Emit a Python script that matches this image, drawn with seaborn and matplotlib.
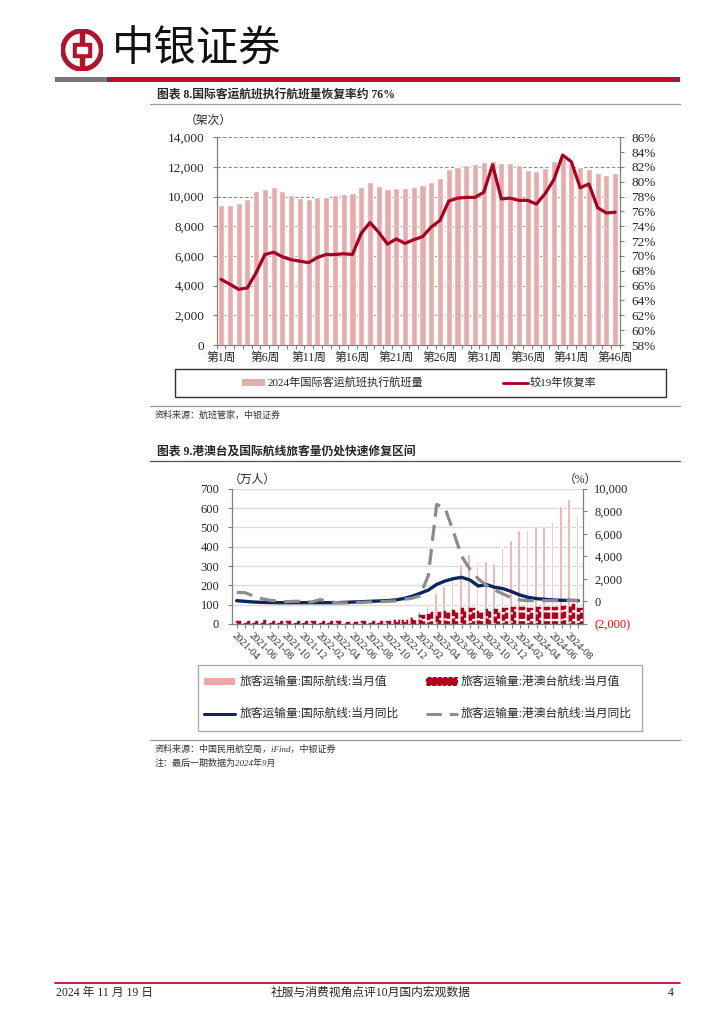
import numpy as np
import pandas as pd
import seaborn as sns
import matplotlib.pyplot as plt
from matplotlib.lines import Line2D
from matplotlib.patches import Rectangle, Circle
from matplotlib.ticker import FuncFormatter

W, H = 724, 1024

# chart 8: weekly international passenger flights and recovery vs 2019
weeks = [f"第{i}周" for i in range(1, 47)]
flights = [9440, 9420, 9550, 9840, 10380, 10520, 10670, 10400, 10110, 9930,
           9840, 10000, 10000, 10110, 10200, 10250, 10650, 10990, 10720, 10540,
           10580, 10580, 10650, 10760, 10990, 11280, 11840, 12020, 12110, 12200,
           12340, 12380, 12250, 12270, 12110, 11780, 11750, 11950, 12400, 12600,
           12250, 12020, 11890, 11570, 11460, 11570]
recovery = [66.85, 66.2, 65.5, 65.7, 67.75, 70.2, 70.5, 69.9, 69.5, 69.3,
            69.1, 69.8, 70.2, 70.2, 70.3, 70.2, 73.05, 74.5, 73.2, 71.6,
            72.3, 71.7, 72.2, 72.6, 73.9, 74.8, 77.4, 77.8, 77.9, 77.9,
            78.6, 82.3, 77.7, 77.8, 77.5, 77.5, 77.0, 78.4, 80.3, 83.6,
            82.7, 79.2, 79.7, 76.5, 75.8, 75.9]
week_ticks = ["第1周", "第6周", "第11周", "第16周", "第21周", "第26周",
              "第31周", "第36周", "第41周", "第46周"]

# chart 9: monthly passengers (万人) and yoy (%)
months = pd.period_range("2021-04", "2024-09", freq="M").strftime("%Y-%m").tolist()
intl_pax = [8, 9, 9, 9, 8, 8, 8, 8, 8, 8,
            9, 9, 9, 10, 11, 12, 13, 15, 17, 22,
            29, 41, 69, 107, 159, 197, 250, 310, 362, 322,
            328, 314, 397, 434, 486, 486, 509, 509, 534, 610,
            647, 562]
hmt_pax = [10, 12, 12, 13, 10, 10, 10, 11, 12, 12,
           11, 9, 8, 7, 7, 8, 9, 10, 11, 13,
           17, 28, 41, 55, 59, 62, 67, 79, 79, 64,
           72, 71, 78, 81, 81, 79, 83, 83, 83, 90,
           98, 79]
intl_yoy = [70, 10, -50, -80, -100, -110, -110, -110, -110, -110,
            -110, -110, -110, -80, -50, -20, 10, 40, 70, 130,
            250, 450, 720, 1010, 1510, 1810, 2020, 2140, 1900, 1370,
            1490, 1250, 1130, 870, 570, 360, 250, 190, 130, 100,
            100, 70]
hmt_yoy = [810, 780, 480, 250, 100, 40, -20, 10, 10, -50,
           160, 10, -110, -140, -110, -80, -50, -20, 10, 40,
           190, 280, 500, 2300, 8600, 8300, 6200, 4000, 2850, 2000,
           1400, 1000, 650, 330, 130, 70, 70, 70, 70, 70,
           70, 100]
s_intl = "旅客运输量:国际航线:当月值"
s_hmt = "旅客运输量:港澳台航线:当月值"
s_intl_yoy = "旅客运输量:国际航线:当月同比"
s_hmt_yoy = "旅客运输量:港澳台航线:当月同比"

sns.set_theme(style="white")
plt.rcParams["font.family"] = ["Liberation Serif", "Noto Sans CJK SC"]
plt.rcParams["axes.unicode_minus"] = False

fig = plt.figure(figsize=(7.24, 10.24), dpi=100)


def fx(x):
    return x / W


def fy(y):
    return 1 - y / H


def rect(l, t, r, b):
    return [l / W, 1 - b / H, (r - l) / W, (b - t) / H]


def hline(x0, x1, y, color, lw, ls="-"):
    fig.add_artist(Line2D([fx(x0), fx(x1)], [fy(y), fy(y)], color=color, lw=lw, ls=ls,
                          transform=fig.transFigure))


def box(l, t, r, b, **kw):
    fig.add_artist(Rectangle((fx(l), fy(b)), (r - l) / W, (b - t) / H,
                             transform=fig.transFigure, **kw))


BOC_RED = "#B3122B"
GRAY = "#808080"
DRED = "#B0001E"
PINK2 = "#EBA8A8"

# header
logo = fig.add_axes(rect(61, 29, 103, 71))
logo.set_xlim(-1, 1)
logo.set_ylim(-1, 1)
logo.set_aspect("equal")
logo.axis("off")
logo.add_patch(Circle((0, 0), 1, color=BOC_RED))
logo.add_patch(Circle((0, 0), 0.76, color="white"))
logo.add_patch(Rectangle((-0.11, -0.8), 0.22, 1.6, color=BOC_RED))
logo.add_patch(Rectangle((-0.42, -0.32), 0.84, 0.64, color=BOC_RED))
logo.add_patch(Rectangle((-0.22, -0.13), 0.44, 0.26, color="white"))
fig.text(fx(112), fy(50), "中银证券", fontsize=30.5, family="Noto Sans CJK SC",
         va="center", ha="left", color="#111111")
box(55, 77, 107, 82, color="#777777", lw=0)
box(107, 77, 680, 82, color=BOC_RED, lw=0)

# ---------------- chart 8 ----------------
fig.text(fx(157), fy(96), "图表 8.国际客运航班执行航班量恢复率约 76%", fontsize=8.5,
         fontweight="bold", va="center", ha="left")
hline(150, 680, 104, "#999999", 0.9)

ax1 = fig.add_axes(rect(216.7, 137.3, 620, 345))
sns.barplot(x=weeks, y=flights, color="#E8ABAB", saturation=1, width=0.7, ax=ax1)
ax1.set_ylim(0, 14000)
ax1.set_yticks(range(0, 14001, 2000))
ax1.yaxis.set_major_formatter(FuncFormatter(lambda v, p: f"{v:,.0f}"))
ax1.grid(axis="y", ls=(0, (3, 2)), color="#8C8C8C", lw=0.8)
ax1.set_axisbelow(True)

ax1r = ax1.twinx()
sns.lineplot(x=np.arange(len(recovery)), y=recovery, color="#A8001E", lw=2.3, ax=ax1r)
ax1r.set_ylim(58, 86)
ax1r.set_yticks(range(58, 87, 2))
ax1r.set_yticklabels([f"{v}%" for v in range(58, 87, 2)])
ax1.set_xlim(-0.5, 45.55)

ax1.set_xticks([weeks.index(w) for w in week_ticks])
ax1.set_xticklabels(week_ticks)
ax1.set_xticks(np.arange(-0.5, 46, 1), minor=True)
for a in (ax1, ax1r):
    for s in a.spines.values():
        s.set_visible(False)
ax1.spines["left"].set_visible(True)
ax1.spines["bottom"].set_visible(True)
ax1r.spines["right"].set_visible(True)
for s in (ax1.spines["left"], ax1.spines["bottom"], ax1r.spines["right"]):
    s.set_color(GRAY)
    s.set_linewidth(0.9)
ax1.tick_params(axis="y", left=True, length=3, width=0.8, color=GRAY, pad=6, labelsize=9.5)
ax1.tick_params(axis="x", which="major", bottom=False, length=0, pad=5, labelsize=8.5)
ax1.tick_params(axis="x", which="minor", bottom=True, length=3, width=0.8, color=GRAY)
ax1r.tick_params(axis="y", right=True, length=3, width=0.8, color=GRAY, pad=5, labelsize=9.5)
ax1.set_ylabel("")
ax1r.set_ylabel("")
fig.text(fx(208), fy(121), "（架次）", fontsize=8.5, ha="center", va="center")

# legend 8
box(175, 369, 666, 397, fill=False, edgecolor="#333333", lw=1)
box(242, 379, 265, 386, color="#E8ABAB", lw=0)
fig.text(fx(268), fy(382.5), "2024年国际客运航班执行航班量", fontsize=8, va="center")
hline(503, 528, 382.5, "#A8001E", 2)
fig.text(fx(530), fy(382.5), "较19年恢复率", fontsize=8, va="center")

hline(150, 680, 406, "#999999", 0.9)
fig.text(fx(155), fy(415), "资料来源：航班管家，中银证券", fontsize=6.5, color="#333333",
         va="center", style="italic")

# ---------------- chart 9 ----------------
fig.text(fx(157), fy(452), "图表 9.港澳台及国际航线旅客量仍处快速修复区间", fontsize=8.5,
         fontweight="bold", va="center", ha="left")
hline(150, 680, 461, "#555555", 0.9)

df2 = pd.DataFrame({
    "month": months * 2,
    "value": intl_pax + hmt_pax,
    "series": [s_intl] * len(months) + [s_hmt] * len(months),
})
ax2 = fig.add_axes(rect(231.7, 488.7, 583.3, 624))
sns.barplot(data=df2, x="month", y="value", hue="series", hue_order=[s_intl, s_hmt],
            palette=[PINK2, DRED], saturation=1, width=0.66, errorbar=None,
            legend=False, ax=ax2)
# the HK/Macau/Taiwan bars are drawn as a heavy dashed outline
for bar in ax2.containers[1]:
    bar.set_facecolor("none")
    bar.set_edgecolor(DRED)
    bar.set_linewidth(2.5)
    bar.set_linestyle((0, (1.8, 0.7)))
ax2.set_ylim(0, 700)
ax2.set_yticks(range(0, 701, 100))
ax2.grid(axis="y", color="#D9D9D9", lw=0.9)
ax2.set_axisbelow(True)
ax2.set_xlabel("")
ax2.set_ylabel("")

ax2r = ax2.twinx()
sns.lineplot(x=np.arange(len(months)), y=intl_yoy, color="#0B2560", lw=2.4, ax=ax2r)
sns.lineplot(x=np.arange(len(months)), y=hmt_yoy, color="#8C8C8C", lw=2.3,
             linestyle=(0, (5, 2.6)), ax=ax2r)
ax2r.set_ylim(-2000, 10000)
ax2r.set_yticks(range(-2000, 10001, 2000))
ax2r.set_yticklabels(["(2,000)"] + [f"{v:,}" for v in range(0, 10001, 2000)])
ax2r.get_yticklabels()[0].set_color("#FF0000")
ax2r.set_ylabel("")
ax2.set_xlim(-0.6, 41.6)

ax2.set_xticks(range(0, 41, 2))
ax2.set_xticklabels(months[0:41:2], rotation=-45, ha="left", va="top",
                    rotation_mode="anchor")
ax2.set_xticks(range(len(months)), minor=True)
for a in (ax2, ax2r):
    for s in a.spines.values():
        s.set_visible(False)
ax2.spines["left"].set_visible(True)
ax2.spines["bottom"].set_visible(True)
ax2r.spines["right"].set_visible(True)
for s in (ax2.spines["left"], ax2.spines["bottom"], ax2r.spines["right"]):
    s.set_color(GRAY)
    s.set_linewidth(0.9)
ax2.tick_params(axis="y", left=True, length=3, width=0.8, color=GRAY, pad=6, labelsize=9)
ax2.tick_params(axis="x", which="major", bottom=True, length=3, width=0.8, color=GRAY,
                pad=2, labelsize=7.5)
ax2.tick_params(axis="x", which="minor", bottom=True, length=3, width=0.8, color=GRAY)
ax2r.tick_params(axis="y", right=True, length=3, width=0.8, color=GRAY, pad=5, labelsize=9)
fig.text(fx(252), fy(480), "（万人）", fontsize=8.5, ha="center", va="center")
fig.text(fx(580), fy(480), "（%）", fontsize=8.5, ha="center", va="center")

# legend 9
box(198, 665, 642, 731, fill=False, edgecolor="#A6A6A6", lw=0.9)
box(204, 678, 235, 685, color=PINK2, lw=0)
fig.text(fx(240), fy(681.5), s_intl, fontsize=8.5, va="center")
box(427, 678, 457, 685, facecolor=DRED, edgecolor=DRED, lw=1.5,
    ls=(0, (1.8, 0.7)))
fig.text(fx(461), fy(681.5), s_hmt, fontsize=8.5, va="center")
hline(204, 235, 714, "#0B2560", 2.2)
fig.text(fx(240), fy(714), s_intl_yoy, fontsize=8.5, va="center")
hline(426, 458, 714, "#8C8C8C", 2.2, ls=(0, (5, 2.6)))
fig.text(fx(461), fy(714), s_hmt_yoy, fontsize=8.5, va="center")

hline(150, 680, 740, "#999999", 0.9)
fig.text(fx(155), fy(749), "资料来源：中国民用航空局，iFind，中银证券", fontsize=6.5,
         color="#333333", va="center", style="italic")
fig.text(fx(155), fy(763), "注：最后一期数据为2024年9月", fontsize=6.5,
         color="#333333", va="center", style="italic")

# footer
hline(55, 680, 983, BOC_RED, 1.3)
fig.text(fx(56), fy(993), "2024 年 11 月 19 日", fontsize=8.5, va="center", ha="left")
fig.text(fx(371), fy(993), "社服与消费视角点评10月国内宏观数据", fontsize=8.5,
         va="center", ha="center")
fig.text(fx(674), fy(993), "4", fontsize=8.5, va="center", ha="right")

fig.savefig("out.png", dpi=100)
